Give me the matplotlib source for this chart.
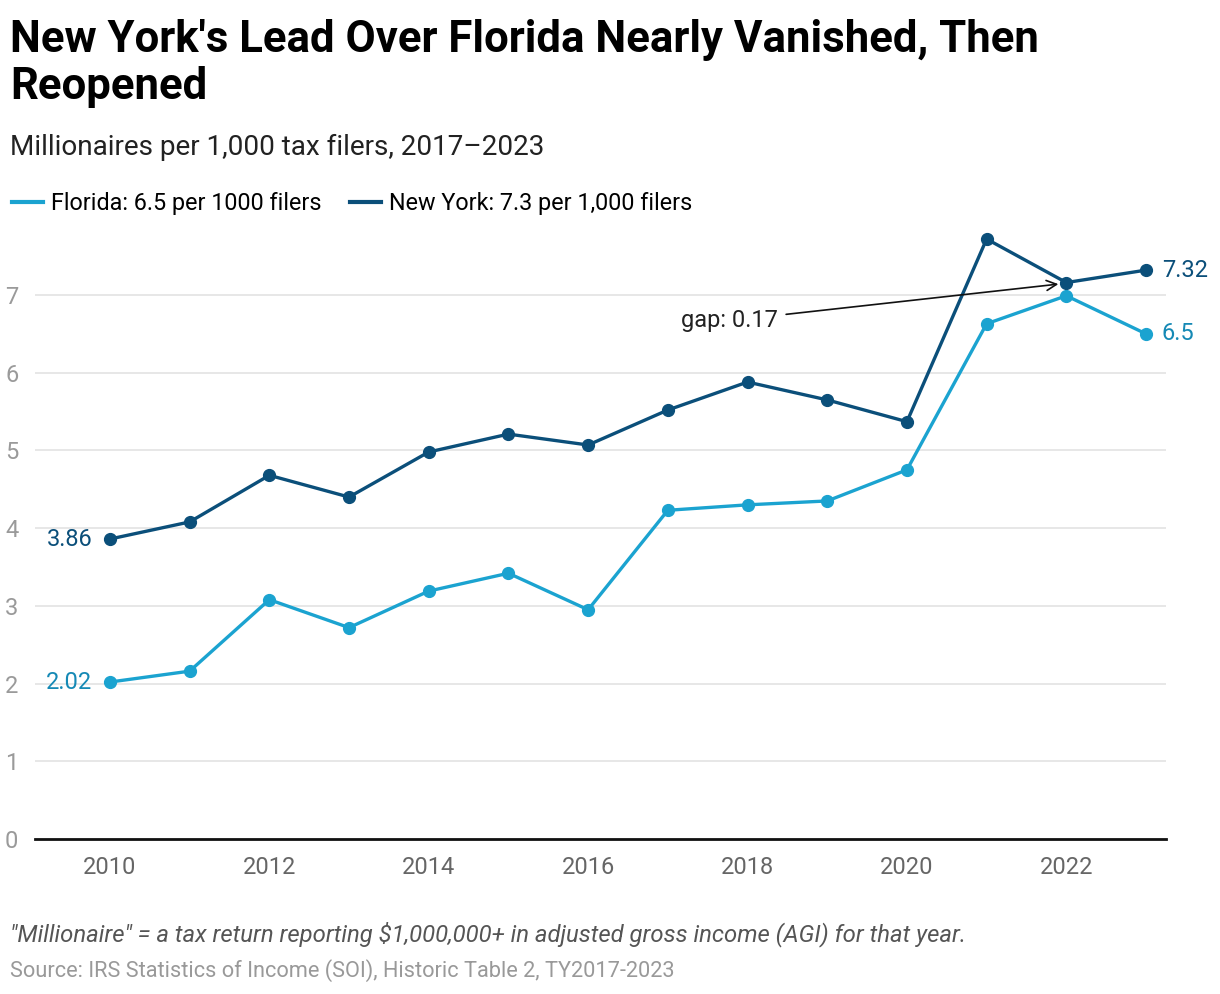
import matplotlib.pyplot as plt

plt.rcParams['font.family'] = ['Roboto', 'DejaVu Sans']

years = list(range(2010, 2024))
florida = [2.02, 2.16, 3.08, 2.72, 3.19, 3.42, 2.95, 4.23, 4.30, 4.35, 4.75, 6.63, 6.99, 6.50]
new_york = [3.86, 4.08, 4.68, 4.40, 4.98, 5.21, 5.07, 5.52, 5.88, 5.65, 5.37, 7.72, 7.16, 7.32]
y_ticks = [0, 1, 2, 3, 4, 5, 6, 7]
x_ticks = [2010, 2012, 2014, 2016, 2018, 2020, 2022]

fl_color = '#1ba3d0'
ny_color = '#0b4f7a'

fig = plt.figure(figsize=(12.2, 9.94), dpi=100)
ax = fig.add_axes([0.0287, 0.1559, 0.927, 0.6177])

ax.plot(years, florida, color=fl_color, lw=2.4, marker='o', ms=8.5, zorder=3,
        label='Florida: 6.5 per 1000 filers')
ax.plot(years, new_york, color=ny_color, lw=2.4, marker='o', ms=8.5, zorder=3,
        label='New York: 7.3 per 1,000 filers')

ax.set_xlim(2009.06, 2023.25)
ax.set_ylim(0, 7.9)
ax.set_yticks(y_ticks)
ax.set_xticks(x_ticks)
ax.grid(axis='y', color='#e3e3e3', lw=1.2)
ax.set_axisbelow(True)
for s in ['top', 'right', 'left']:
    ax.spines[s].set_visible(False)
ax.spines['bottom'].set_color('#111111')
ax.spines['bottom'].set_linewidth(2)
ax.tick_params(axis='y', length=0, labelsize=17, labelcolor='#9a9a9a', pad=12)
ax.tick_params(axis='x', length=0, labelsize=17, labelcolor='#666666', pad=12)
for lab in ax.get_yticklabels():
    lab.set_horizontalalignment('right')

# end labels
ax.text(years[0] - 0.22, new_york[0], f'{new_york[0]:.2f}', color=ny_color,
        fontsize=17, ha='right', va='center')
ax.text(years[0] - 0.22, florida[0], f'{florida[0]:.2f}', color='#1589b5',
        fontsize=17, ha='right', va='center')
ax.text(years[-1] + 0.2, new_york[-1], f'{new_york[-1]:.2f}', color=ny_color,
        fontsize=17, ha='left', va='center')
ax.text(years[-1] + 0.2, florida[-1], f'{florida[-1]:g}', color='#1589b5',
        fontsize=17, ha='left', va='center')

gap = new_york[-2] - florida[-2]
ax.annotate(f'gap: {gap:.2f}', xy=(2021.9, 7.14), xytext=(2018.38, 6.67),
            fontsize=17, color='#222222', ha='right', va='center',
            arrowprops=dict(arrowstyle='->', color='#111111', lw=1.2,
                            mutation_scale=18, shrinkA=4, shrinkB=0))

leg = ax.legend(loc='lower left', bbox_to_anchor=(-0.0325, 0.993), ncol=2, frameon=False,
                fontsize=16.8, handlelength=1.3, handletextpad=0.35, columnspacing=1.25,
                borderaxespad=0.2)
for h in leg.legend_handles:
    h.set_marker('')
    h.set_linewidth(3)

fig.text(0.008, 0.981, "New York's Lead Over Florida Nearly Vanished, Then\nReopened",
         fontsize=31.5, fontweight='bold', ha='left', va='top', color='#000000',
         linespacing=1.17)
fig.text(0.008, 0.852, 'Millionaires per 1,000 tax filers, 2017\u20132023',
         fontsize=20.1, ha='left', va='center', color='#222222')
fig.text(0.008, 0.060, '"Millionaire" = a tax return reporting $1,000,000+ in adjusted gross income (AGI) for that year.',
         fontsize=17.2, style='italic', ha='left', va='center', color='#555555')
fig.text(0.008, 0.024, 'Source: IRS Statistics of Income (SOI), Historic Table 2, TY2017-2023',
         fontsize=15.7, ha='left', va='center', color='#999999')

fig.savefig('out.png', dpi=100)
